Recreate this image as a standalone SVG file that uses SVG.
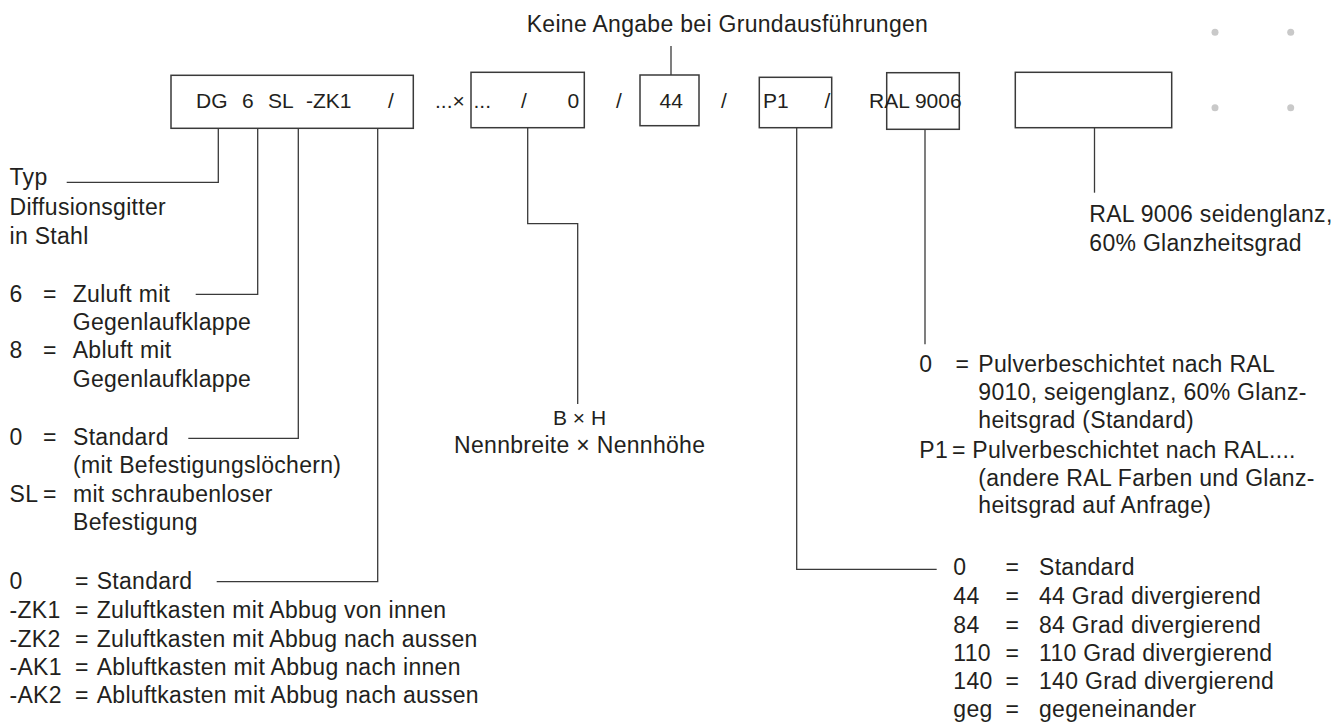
<svg xmlns="http://www.w3.org/2000/svg" width="1341" height="724" viewBox="0 0 1341 724">
<style>
text{font-family:"Liberation Sans",Arial,sans-serif;fill:#231f20}
.t{font-size:23px;letter-spacing:0.3px}
.b{font-size:21px}
.box{fill:none;stroke:#3a3a3a;stroke-width:1.5}
.c{fill:none;stroke:#3a3a3a;stroke-width:1.3}
.dot{fill:#c9c9c9}
</style>
<rect width="1341" height="724" fill="#fff"/>

<g id="connectors">
<path class="c" d="M66.7,182.3 H218.3 V128.3"/>
<path class="c" d="M195.7,294.3 H257.7 V128.3"/>
<path class="c" d="M188.3,438.3 H298.3 V128.3"/>
<path class="c" d="M216.7,581.7 H377.7 V128.3"/>
<path class="c" d="M527.7,127.7 V223.7 H577.7 V404"/>
<path class="c" d="M671,46 V75"/>
<path class="c" d="M796.7,127.7 V569.3 H936.7"/>
<path class="c" d="M925,129.3 V344.3"/>
<path class="c" d="M1094.5,127.7 V192.7"/>
</g>

<g id="header">
<text class="t" x="526.7" y="32">Keine Angabe bei Grundausführungen</text>
</g>

<g id="box-type">
<rect class="box" x="171" y="75.3" width="242.3" height="53"/>
<text class="b" x="196" y="108">DG</text>
<text class="b" x="242" y="108">6</text>
<text class="b" x="268" y="108">SL</text>
<text class="b" x="306" y="108">-ZK1</text>
<text class="b" x="388" y="108">/</text>
</g>

<g id="box-size">
<text class="b" x="435" y="108">...×</text>
<rect class="box" x="471" y="72.3" width="113.3" height="55.4"/>
<text class="b" x="473.5" y="108">...</text>
<text class="b" x="521" y="108">/</text>
<text class="b" x="567.5" y="108">0</text>
<text class="b" x="616" y="108">/</text>
</g>

<g id="box-angle">
<rect class="box" x="640" y="75" width="59" height="50.7"/>
<text class="b" x="659.5" y="108">44</text>
<text class="b" x="721" y="108">/</text>
</g>

<g id="box-p1">
<rect class="box" x="759.3" y="77.3" width="72.4" height="50.4"/>
<text class="b" x="763" y="108">P1</text>
<text class="b" x="824.5" y="108">/</text>
</g>

<g id="box-ral">
<rect class="box" x="886.7" y="72.7" width="72.6" height="56.6"/>
<text class="b" x="869" y="108">RAL 9006</text>
</g>

<g id="box-empty">
<rect class="box" x="1015.3" y="72.3" width="156.4" height="55.4"/>
</g>

<g id="dots">
<circle class="dot" cx="1215" cy="32.3" r="3.5"/>
<circle class="dot" cx="1290.7" cy="32.3" r="3.5"/>
<circle class="dot" cx="1215" cy="107.7" r="3.5"/>
<circle class="dot" cx="1290.7" cy="107.7" r="3.5"/>
</g>

<g id="label-typ" class="t">
<text class="t" x="9.5" y="185">Typ</text>
<text class="t" x="9.5" y="215">Diffusionsgitter</text>
<text class="t" x="9.5" y="244">in Stahl</text>
</g>

<g id="label-air">
<text class="t" x="9.5" y="301.7">6</text>
<text class="t" x="43" y="301.7">=</text>
<text class="t" x="72.7" y="301.7">Zuluft mit</text>
<text class="t" x="72.7" y="330">Gegenlaufklappe</text>
<text class="t" x="9.5" y="358.3">8</text>
<text class="t" x="43" y="358.3">=</text>
<text class="t" x="72.7" y="358.3">Abluft mit</text>
<text class="t" x="72.7" y="387.3">Gegenlaufklappe</text>
</g>

<g id="label-fix">
<text class="t" x="9.5" y="445">0</text>
<text class="t" x="43" y="445">=</text>
<text class="t" x="73" y="445">Standard</text>
<text class="t" x="73" y="473.3">(mit Befestigungslöchern)</text>
<text class="t" x="9.5" y="501.7">SL</text>
<text class="t" x="43" y="501.7">=</text>
<text class="t" x="73" y="501.7">mit schraubenloser</text>
<text class="t" x="73" y="530">Befestigung</text>
</g>

<g id="label-box">
<text class="t" x="9.5" y="589.3">0</text>
<text class="t" x="75" y="589.3">=</text>
<text class="t" x="96.7" y="589.3">Standard</text>
<text class="t" x="9.5" y="618.3">-ZK1</text>
<text class="t" x="75" y="618.3">=</text>
<text class="t" x="96.7" y="618.3">Zuluftkasten mit Abbug von innen</text>
<text class="t" x="9.5" y="646.7">-ZK2</text>
<text class="t" x="75" y="646.7">=</text>
<text class="t" x="96.7" y="646.7">Zuluftkasten mit Abbug nach aussen</text>
<text class="t" x="9.5" y="675">-AK1</text>
<text class="t" x="75" y="675">=</text>
<text class="t" x="96.7" y="675">Abluftkasten mit Abbug nach innen</text>
<text class="t" x="9.5" y="703.3">-AK2</text>
<text class="t" x="75" y="703.3">=</text>
<text class="t" x="96.7" y="703.3">Abluftkasten mit Abbug nach aussen</text>
</g>

<g id="label-size">
<text class="b" x="579.5" y="425" text-anchor="middle">B × H</text>
<text class="t" x="579.7" y="453.3" text-anchor="middle">Nennbreite × Nennhöhe</text>
</g>

<g id="label-coating">
<text class="t" x="919.3" y="371.7">0</text>
<text class="t" x="955.5" y="371.7">=</text>
<text class="t" x="978.3" y="371.7">Pulverbeschichtet nach RAL</text>
<text class="t" x="978.3" y="400">9010, seigenglanz, 60% Glanz-</text>
<text class="t" x="978.3" y="428.3">heitsgrad (Standard)</text>
<text class="t" x="919.3" y="458.3">P1</text>
<text class="t" x="952" y="458.3">=</text>
<text class="t" x="972.3" y="458.3">Pulverbeschichtet nach RAL....</text>
<text class="t" x="978.3" y="486">(andere RAL Farben und Glanz-</text>
<text class="t" x="978.3" y="513.3">heitsgrad auf Anfrage)</text>
</g>

<g id="label-angle">
<text class="t" x="953.3" y="575">0</text>
<text class="t" x="1005.5" y="575">=</text>
<text class="t" x="1039" y="575">Standard</text>
<text class="t" x="953.3" y="604">44</text>
<text class="t" x="1005.5" y="604">=</text>
<text class="t" x="1039" y="604">44 Grad divergierend</text>
<text class="t" x="953.3" y="632.7">84</text>
<text class="t" x="1005.5" y="632.7">=</text>
<text class="t" x="1039" y="632.7">84 Grad divergierend</text>
<text class="t" x="953.3" y="660.7">110</text>
<text class="t" x="1005.5" y="660.7">=</text>
<text class="t" x="1039" y="660.7">110 Grad divergierend</text>
<text class="t" x="953.3" y="689">140</text>
<text class="t" x="1005.5" y="689">=</text>
<text class="t" x="1039" y="689">140 Grad divergierend</text>
<text class="t" x="953.3" y="717.3">geg</text>
<text class="t" x="1005.5" y="717.3">=</text>
<text class="t" x="1039" y="717.3">gegeneinander</text>
</g>

<g id="label-ral">
<text class="t" x="1089.3" y="221.7">RAL 9006 seidenglanz,</text>
<text class="t" x="1089.3" y="251">60% Glanzheitsgrad</text>
</g>
</svg>
